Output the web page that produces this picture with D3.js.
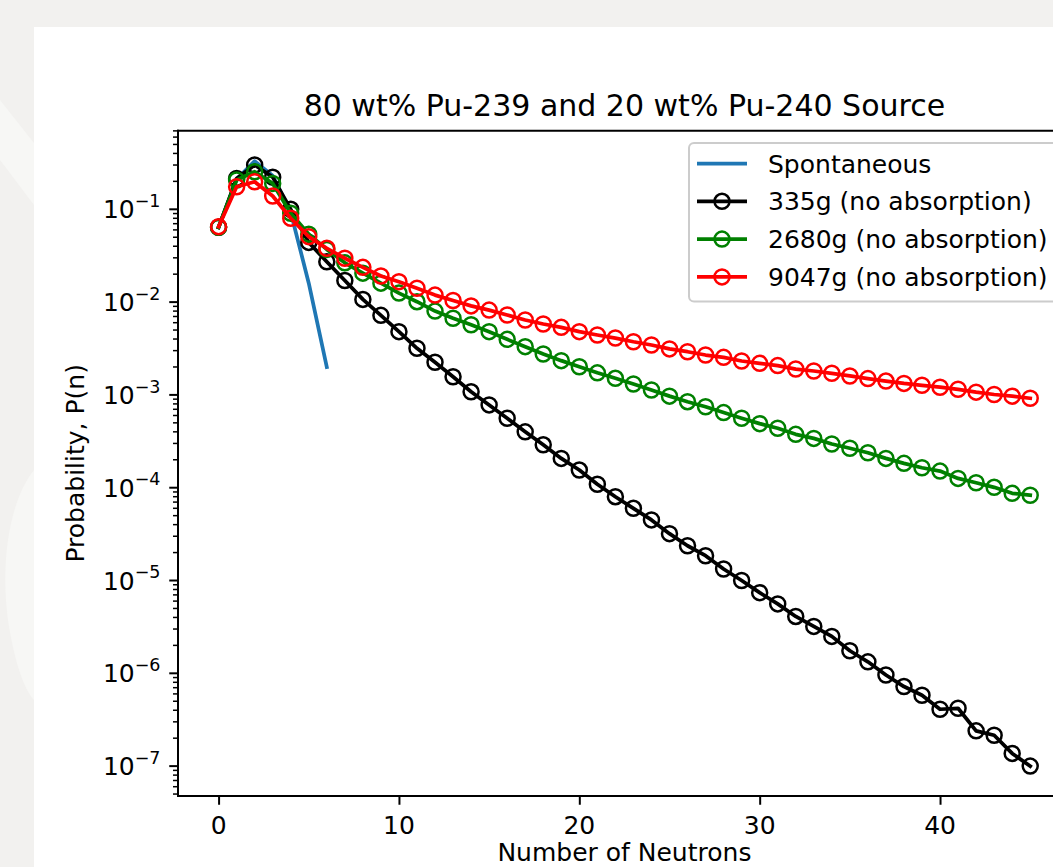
<!DOCTYPE html>
<html>
<head>
<meta charset="utf-8">
<script src="https://cdnjs.cloudflare.com/ajax/libs/d3/7.8.5/d3.min.js"></script>
<style>
  body { margin: 0; background: #f2f1ef; }
  svg { display: block; font-family: "DejaVu Sans", sans-serif; }
</style>
</head>
<body>
<div id="chartHolder"></div>
<script>
// values (P(n) for n = 0..45)
const neutrons = d3.range(0, 46);
const spontaneous = [0.064, 0.21, 0.33, 0.23, 0.093, 0.016, 0.002];
const mass335 = [0.064, 0.215, 0.30, 0.222, 0.100, 0.044, 0.0272, 0.0171, 0.0107, 0.0072,
  0.0048, 0.00318, 0.00225, 0.00157, 0.00108, 7.8e-4, 5.6e-4, 4.0e-4, 2.9e-4, 2.07e-4,
  1.55e-4, 1.09e-4, 8.0e-5, 6.0e-5, 4.5e-5, 3.2e-5, 2.37e-5, 1.85e-5, 1.33e-5, 1.0e-5,
  7.4e-6, 5.6e-6, 4.1e-6, 3.2e-6, 2.5e-6, 1.75e-6, 1.33e-6, 9.6e-7, 7.2e-7, 5.8e-7,
  4.1e-7, 4.2e-7, 2.4e-7, 2.15e-7, 1.37e-7, 1.0e-7];
const mass2680 = [0.064, 0.207, 0.254, 0.19, 0.0906, 0.054, 0.037, 0.0265, 0.0205, 0.016,
  0.0125, 0.0101, 0.008, 0.0067, 0.0057, 0.0048, 0.00397, 0.00331, 0.00276, 0.00234,
  0.00201, 0.00173, 0.00151, 0.00131, 0.00113, 9.7e-4, 8.45e-4, 7.45e-4, 6.45e-4, 5.6e-4,
  4.9e-4, 4.37e-4, 3.76e-4, 3.4e-4, 2.96e-4, 2.66e-4, 2.38e-4, 2.07e-4, 1.83e-4, 1.64e-4,
  1.51e-4, 1.26e-4, 1.13e-4, 1.01e-4, 8.7e-5, 8.3e-5];
const mass9047 = [0.065, 0.175, 0.198, 0.139, 0.080, 0.0507, 0.038, 0.0297, 0.0237, 0.0191,
  0.0166, 0.0141, 0.0119, 0.0104, 0.0091, 0.0082, 0.00726, 0.00641, 0.00581, 0.00535,
  0.0048, 0.00442, 0.0041, 0.00374, 0.00345, 0.00313, 0.00292, 0.00269, 0.00254, 0.00232,
  0.00219, 0.00207, 0.0019, 0.00181, 0.00171, 0.0016, 0.0015, 0.00141, 0.00133, 0.00127,
  0.00121, 0.00115, 0.00107, 0.00101, 9.7e-4, 9.2e-4];
const seriesNames = ["Spontaneous", "335g (no absorption)", "2680g (no absorption)", "9047g (no absorption)"];
const xTicks = [0, 10, 20, 30, 40];
const yTickExps = [-1, -2, -3, -4, -5, -6, -7];

const w = 1053, h = 867;
const axL = 178, axR = 1070.8, axT = 130.7, axB = 796;

const svg = d3.select("#chartHolder").append("svg")
  .attr("width", w).attr("height", h);

// page background + faint watermark in the strip
svg.append("rect").attr("width", w).attr("height", h).attr("fill", "#f2f1ef");
svg.append("path").attr("d", "M0,100 L34,143 L34,205 L0,160 Z").attr("fill", "#f7f7f5");
svg.append("path").attr("d", "M34,470 C10,500 0,560 8,620 C14,660 24,690 34,700 Z").attr("fill", "#f7f7f5");
svg.append("rect").attr("x", 34).attr("y", 27).attr("width", w - 34).attr("height", h - 27).attr("fill", "#fff");

const x = d3.scaleLinear().domain([-2.25, 47.25]).range([axL, axR]);
const y = d3.scaleLog().domain([Math.pow(10, -7.322), Math.pow(10, -0.153)]).range([axB, axT]);

// title
svg.append("text")
  .attr("x", (axL + axR) / 2).attr("y", 115.7)
  .attr("text-anchor", "middle").attr("font-size", 30)
  .text("80 wt% Pu-239 and 20 wt% Pu-240 Source");

// x axis
const xAxis = d3.axisBottom(x).tickValues(xTicks).tickSize(8.75).tickPadding(8.75).tickSizeOuter(0);
const gx = svg.append("g").attr("transform", "translate(0," + axB + ")").call(xAxis);
gx.select(".domain").remove();
gx.selectAll(".tick line").attr("stroke", "#000").attr("stroke-width", 2);
gx.selectAll(".tick text").remove();
xTicks.forEach((t) => {
  svg.append("text").attr("x", x(t)).attr("y", 834)
    .attr("text-anchor", "middle").attr("font-size", 25).text(t);
});

// y axis: major + minor ticks
const minor = [];
for (let e = -8; e <= 0; e++) {
  for (let m = 2; m <= 9; m++) {
    const v = m * Math.pow(10, e);
    if (v >= y.domain()[0] && v <= y.domain()[1]) minor.push(v);
  }
}
const gy = svg.append("g");
gy.selectAll(".minor").data(minor).enter().append("line")
  .attr("x1", axL - 5).attr("x2", axL)
  .attr("y1", (d) => y(d)).attr("y2", (d) => y(d))
  .attr("stroke", "#000").attr("stroke-width", 1.5);
gy.selectAll(".major").data(yTickExps).enter().append("line")
  .attr("x1", axL - 8.75).attr("x2", axL)
  .attr("y1", (d) => y(Math.pow(10, d))).attr("y2", (d) => y(Math.pow(10, d)))
  .attr("stroke", "#000").attr("stroke-width", 2);
const ylab = gy.selectAll(".lab").data(yTickExps).enter().append("text")
  .attr("x", axL - 17.5).attr("y", (d) => y(Math.pow(10, d)) + 9.1)
  .attr("text-anchor", "end").attr("font-size", 25);
ylab.append("tspan").text("10");
ylab.append("tspan").attr("dy", -11.5).attr("font-size", 17.5).text((d) => "\u2212" + Math.abs(d));

// axis labels
svg.append("text")
  .attr("transform", "translate(84," + (axT + axB) / 2 + ")rotate(-90)")
  .attr("text-anchor", "middle").attr("font-size", 25)
  .text("Probability, P(n)");
svg.append("text")
  .attr("x", (axL + axR) / 2).attr("y", 861)
  .attr("text-anchor", "middle").attr("font-size", 25)
  .text("Number of Neutrons");

// data
svg.append("clipPath").attr("id", "plotclip").append("rect")
  .attr("x", axL).attr("y", axT).attr("width", axR - axL).attr("height", axB - axT);
const plot = svg.append("g").attr("clip-path", "url(#plotclip)");
const line = d3.line().x((d, i) => x(neutrons[i])).y((d) => y(d));

const series = [
  { vals: spontaneous, color: "#1f77b4", marker: false },
  { vals: mass335, color: "#000000", marker: true },
  { vals: mass2680, color: "#008000", marker: true },
  { vals: mass9047, color: "#ff0000", marker: true }
];
series.forEach((s) => {
  plot.append("path").datum(s.vals).attr("d", line)
    .attr("fill", "none").attr("stroke", s.color).attr("stroke-width", 3.75)
    .attr("stroke-linejoin", "round").attr("stroke-linecap", "square");
  if (s.marker) {
    plot.selectAll(null).data(s.vals).enter().append("circle")
      .attr("cx", (d, i) => x(neutrons[i])).attr("cy", (d) => y(d)).attr("r", 7.5)
      .attr("fill", "none").attr("stroke", s.color).attr("stroke-width", 2.5);
  }
});

// spines (right one falls outside the window)
[[axL, axT, axL, axB], [axL, axT, axR, axT], [axL, axB, axR, axB], [axR, axT, axR, axB]].forEach((s) => {
  svg.append("line").attr("x1", s[0]).attr("y1", s[1]).attr("x2", s[2]).attr("y2", s[3])
    .attr("stroke", "#000").attr("stroke-width", 2).attr("stroke-linecap", "square");
});

// legend
svg.append("rect").attr("x", 689).attr("y", 143).attr("width", 370).attr("height", 158.5)
  .attr("rx", 5).attr("fill", "#fff").attr("fill-opacity", 0.8)
  .attr("stroke", "#cccccc").attr("stroke-width", 2);
const legend = svg.selectAll(".legend").data(series).enter().append("g")
  .attr("transform", (d, i) => "translate(0," + (163.5 + i * 37.8) + ")");
legend.append("line").attr("x1", 697).attr("x2", 747).attr("y1", 0).attr("y2", 0)
  .attr("stroke", (d) => d.color).attr("stroke-width", 3.75);
legend.filter((d) => d.marker).append("circle").attr("cx", 722).attr("cy", 0).attr("r", 7.5)
  .attr("fill", "none").attr("stroke", (d) => d.color).attr("stroke-width", 2.5);
legend.append("text").attr("x", 768).attr("y", 9).attr("font-size", 25)
  .text((d, i) => seriesNames[i]);
</script>
</body>
</html>
